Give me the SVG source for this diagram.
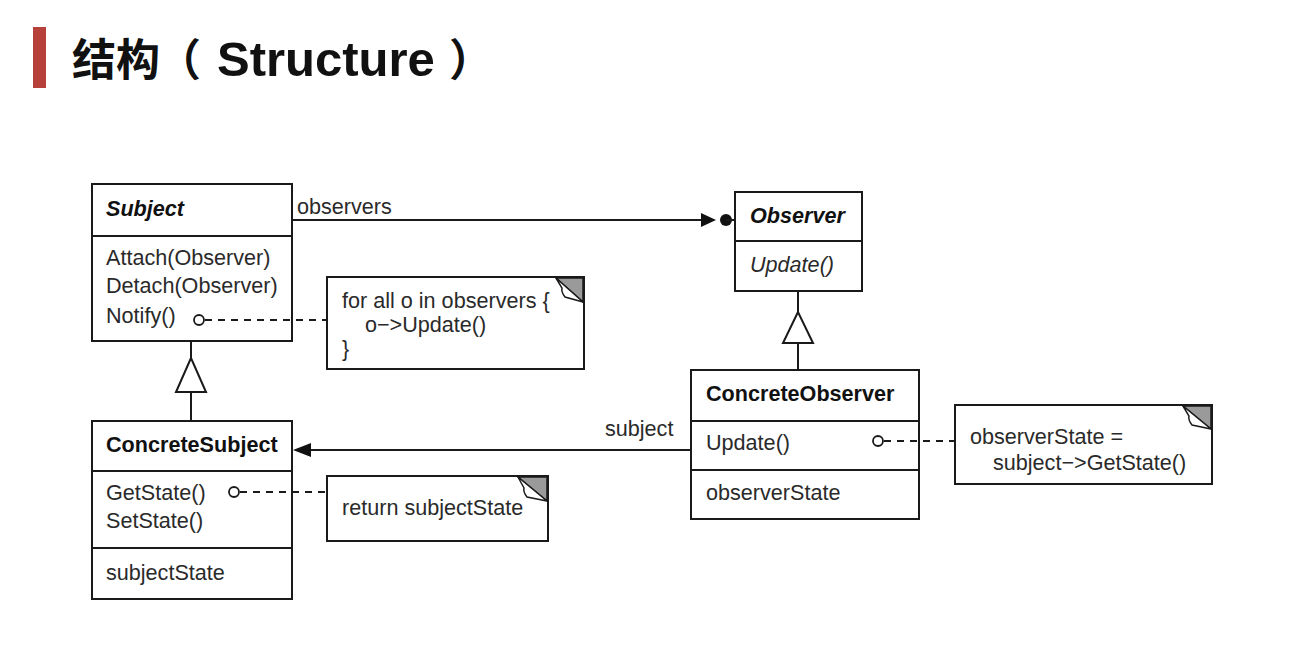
<svg xmlns="http://www.w3.org/2000/svg" width="1305" height="665" viewBox="0 0 1305 665">
<style>
.box{fill:#fff;stroke:#1a1a1a;stroke-width:2}
.ln{stroke:#1a1a1a;stroke-width:2;fill:none}
.dash{stroke:#1a1a1a;stroke-width:2;fill:none;stroke-dasharray:7 6}
.t{font-family:"Liberation Sans",Arial,sans-serif;font-size:21.6px;fill:#2a2a2a}
.b{font-weight:bold;fill:#111}
.i{font-style:italic}
.dot{fill:#fff;stroke:#1a1a1a;stroke-width:1.8}
.ear{fill:#9a9a9a;stroke:#1a1a1a;stroke-width:1.5}
.flap{fill:#fff;stroke:#1a1a1a;stroke-width:1.5}
</style>
<rect width="1305" height="665" fill="#fff"/>
<g id="title">
<rect x="33" y="27" width="13" height="61" fill="#b5413a"/>
<text x="72" y="76" font-family="'Noto Sans CJK SC',sans-serif" font-size="44" font-weight="bold" fill="#111">结构<tspan x="157">（</tspan><tspan x="217" font-family="'Liberation Sans',Arial,sans-serif" font-size="49">Structure</tspan><tspan x="449">）</tspan></text>
</g>
<g id="Subject">
<rect class="box" x="92" y="184" width="200" height="157"/>
<line class="ln" x1="92" y1="236" x2="292" y2="236"/>
<text class="t b i" x="106" y="216">Subject</text>
<text class="t" x="106" y="265">Attach(Observer)</text>
<text class="t" x="106" y="293">Detach(Observer)</text>
<text class="t" x="106" y="323">Notify()</text>
</g>
<g id="Observer">
<rect class="box" x="735" y="192" width="127" height="99"/>
<line class="ln" x1="735" y1="241" x2="862" y2="241"/>
<text class="t b i" x="750" y="223">Observer</text>
<text class="t i" x="750" y="272">Update()</text>
</g>
<g id="ConcreteSubject">
<rect class="box" x="92" y="421" width="200" height="178"/>
<line class="ln" x1="92" y1="471" x2="292" y2="471"/>
<line class="ln" x1="92" y1="548" x2="292" y2="548"/>
<text class="t b" x="106" y="452">ConcreteSubject</text>
<text class="t" x="106" y="500">GetState()</text>
<text class="t" x="106" y="528">SetState()</text>
<text class="t" x="106" y="580">subjectState</text>
</g>
<g id="ConcreteObserver">
<rect class="box" x="691" y="370" width="228" height="149"/>
<line class="ln" x1="691" y1="421" x2="919" y2="421"/>
<line class="ln" x1="691" y1="470" x2="919" y2="470"/>
<text class="t b" x="706" y="401">ConcreteObserver</text>
<text class="t" x="706" y="450">Update()</text>
<text class="t" x="706" y="500">observerState</text>
</g>
<g id="noteNotify">
<rect class="box" x="327" y="277" width="257" height="92"/>
<polygon class="ear" points="556,278 583,278 583,302"/>
<path class="flap" d="M556,278 L583,302 L565,297 Q561,292 562,288 Z"/>
<text class="t" x="342" y="308">for all o in observers {</text>
<text class="t" x="365" y="332">o−&gt;Update()</text>
<text class="t" x="342" y="356">}</text>
</g>
<g id="noteGetState">
<rect class="box" x="327" y="476" width="221" height="65"/>
<polygon class="ear" points="518,477 547,477 547,501"/>
<path class="flap" d="M518,477 L547,501 L527,497 Q523,492 524,488 Z"/>
<text class="t" x="342" y="515">return subjectState</text>
</g>
<g id="noteUpdate">
<rect class="box" x="955" y="405" width="257" height="79"/>
<polygon class="ear" points="1183,406 1211,406 1211,429"/>
<path class="flap" d="M1183,406 L1211,429 L1192,425 Q1188,420 1189,416 Z"/>
<text class="t" x="970" y="444">observerState =</text>
<text class="t" x="993" y="470">subject−&gt;GetState()</text>
</g>
<g id="connectors">
<line class="ln" x1="292" y1="220" x2="712" y2="220"/>
<polygon points="701,213 701,227 716,220" fill="#111"/>
<circle cx="726" cy="220" r="6" fill="#111"/>
<line class="ln" x1="726" y1="220" x2="735" y2="220"/>
<text class="t" x="297" y="214">observers</text>
<line class="ln" x1="691" y1="450" x2="300" y2="450"/>
<polygon points="293,450 311,443 311,457" fill="#111"/>
<text class="t" x="605" y="436">subject</text>
<line class="ln" x1="191" y1="341" x2="191" y2="358"/>
<polygon class="box" points="191,358 176,392 206,392"/>
<line class="ln" x1="191" y1="392" x2="191" y2="421"/>
<line class="ln" x1="798" y1="291" x2="798" y2="312"/>
<polygon class="box" points="798,312 783,343 813,343"/>
<line class="ln" x1="798" y1="343" x2="798" y2="370"/>
<line class="dash" x1="205" y1="320" x2="327" y2="320"/>
<line class="dash" x1="240" y1="492" x2="327" y2="492"/>
<line class="dash" x1="884" y1="441" x2="955" y2="441"/>
<circle class="dot" cx="199" cy="320" r="5"/>
<circle class="dot" cx="234" cy="492" r="5"/>
<circle class="dot" cx="878" cy="441" r="5"/>
</g>
</svg>
